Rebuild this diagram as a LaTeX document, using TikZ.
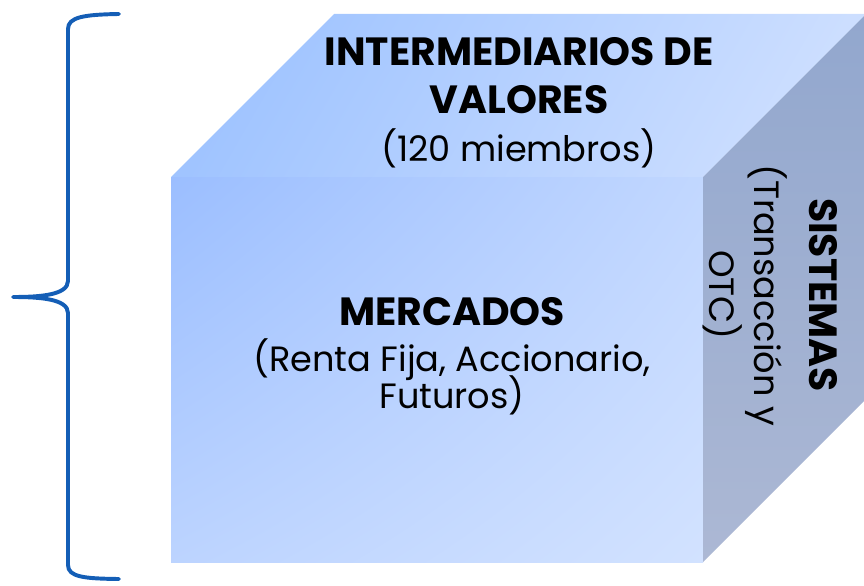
\documentclass[tikz,border=0pt]{standalone}
\usepackage{fontspec}
\setmainfont{Poppins}
\usetikzlibrary{calc, shadings}
\definecolor{bracecol}{RGB}{20,94,182}
\definecolor{frontA}{RGB}{155,190,255}
\definecolor{frontB}{RGB}{210,226,255}
\definecolor{topA}{RGB}{160,196,255}
\definecolor{topB}{RGB}{204,222,255}
\definecolor{sideA}{RGB}{146,167,206}
\definecolor{sideB}{RGB}{172,184,212}
\newcommand{\bigb}{\fontsize{28}{30}\selectfont\bfseries}
\newcommand{\smallr}{\fontsize{25}{28}\selectfont\mdseries}
\newcommand{\tightskip}{\lineskiplimit=-20pt\relax}
\tikzset{
	facetxt/.style={align=center, inner sep=0pt, text=black},
}

\begin{document}
\begin{tikzpicture}
		\pgfmathsetmacro{\W}{13.3}
		\pgfmathsetmacro{\H}{9.625}
		\pgfmathsetmacro{\D}{4.075}
		\useasboundingbox (0,0) rectangle (21.6,14.625);
		\coordinate (A) at (4.275,0.575);		% front, lower left
		\coordinate (B) at ($(A)+(\W,0)$);
		\coordinate (C) at ($(A)+(\W,\H)$);
		\coordinate (E) at ($(A)+(0,\H)$);
		\coordinate (F) at ($(E)+(\D,\D)$);		% back corners
		\coordinate (G) at ($(C)+(\D,\D)$);
		\coordinate (K) at ($(B)+(\D,\D)$);

		% front face
		\shade[upper left=frontA, upper right=frontB!70!frontA,
			lower left=frontB!60!frontA, lower right=frontB] (A) rectangle (C);

		% top face
		\shade[left color=topA, right color=topB, shading angle=60]
			(E) -- (F) -- (G) -- (C) -- cycle;

		% side face
		\shade[top color=sideA, bottom color=sideB] (B) -- (C) -- (G) -- (K) -- cycle;

		% the brace
		\draw[bracecol, line width=2.8pt, line cap=round, line join=round]
			(2.975,14.275) .. controls (2.1,14.26) and (1.7,14.2) .. (1.7,13.9)
			-- (1.7,7.6) .. controls (1.7,7.25) and (1.0,7.2) .. (0.33,7.2)
			.. controls (1.0,7.2) and (1.7,7.15) .. (1.7,6.8)
			-- (1.7,0.5) .. controls (1.7,0.2) and (2.1,0.16) .. (2.975,0.15);

		% texts
		\node[facetxt, font=\fontsize{25}{34}\selectfont] (toptxt) at (12.975,12.05)
			{\bigb INTERMEDIARIOS DE\\ \bigb VALORES\\ \smallr (120 miembros)};
		\node[facetxt, font=\fontsize{25}{26}\selectfont\tightskip] (fronttxt) at (11.3,5.725)
			{\bigb MERCADOS\\[7pt] \smallr (Renta Fija, Accionario,\\ \smallr Futuros)};
		\node[facetxt, rotate=-90, font=\fontsize{25}{32}\selectfont] (sidetxt) at (19.25,7.25)
			{\bigb SISTEMAS\\[7pt] \smallr (Transacción y\\ \smallr OTC)};
\end{tikzpicture}
\end{document}
